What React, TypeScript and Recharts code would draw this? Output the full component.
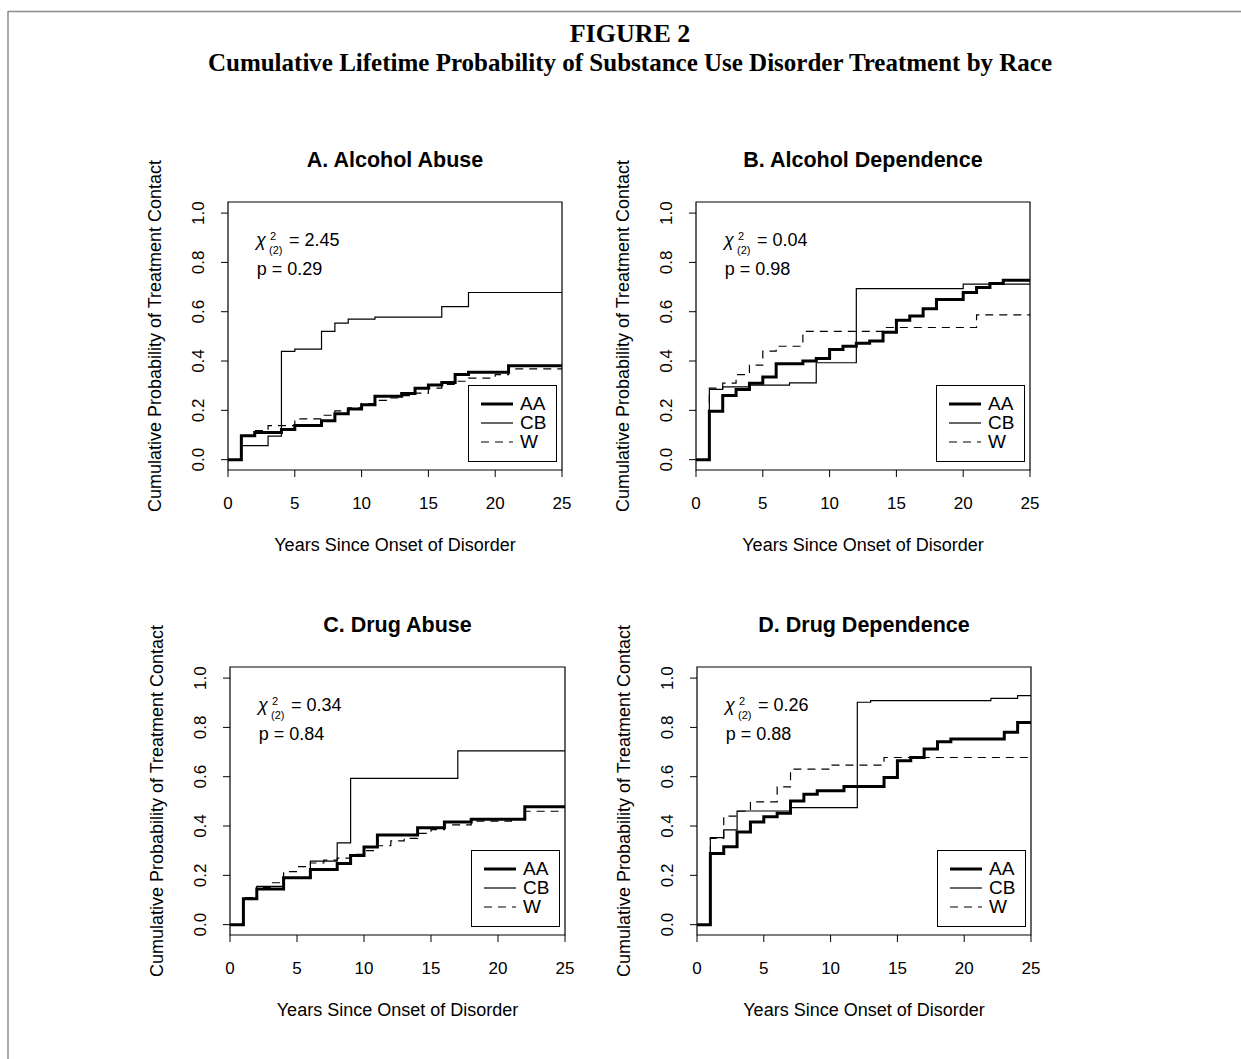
import React from "react";
import { LineChart, Line, XAxis, YAxis, ReferenceArea, Legend } from "recharts";

type Pt = [number, number];

// [years since onset, cumulative probability] — step points

// A. Alcohol Abuse
const alcAbuseAA: Pt[] = [[0, 0], [1, 0.097], [2, 0.11], [4, 0.122], [5, 0.138], [7, 0.158], [8, 0.186], [9, 0.205], [10, 0.223], [11, 0.257], [13, 0.268], [14, 0.29], [15, 0.303], [16, 0.313], [17, 0.345], [18, 0.354], [21, 0.381], [25, 0.381]];
const alcAbuseCB: Pt[] = [[0, 0], [1, 0.057], [3, 0.095], [4, 0.439], [5, 0.448], [7, 0.52], [8, 0.554], [9, 0.57], [11, 0.578], [16, 0.621], [18, 0.678], [25, 0.678]];
const alcAbuseW: Pt[] = [[0, 0], [1, 0.097], [2, 0.118], [3, 0.138], [5, 0.165], [7, 0.18], [8, 0.198], [9, 0.21], [10, 0.227], [11, 0.24], [12, 0.25], [13, 0.26], [14, 0.27], [15, 0.29], [16, 0.305], [17, 0.318], [18, 0.331], [20, 0.345], [21, 0.368], [25, 0.368]];

// B. Alcohol Dependence
const alcDepAA: Pt[] = [[0, 0], [1, 0.196], [2, 0.26], [3, 0.285], [4, 0.31], [5, 0.335], [6, 0.389], [8, 0.4], [9, 0.41], [10, 0.447], [11, 0.46], [12, 0.472], [13, 0.481], [14, 0.517], [15, 0.565], [16, 0.583], [17, 0.612], [18, 0.65], [20, 0.678], [21, 0.698], [22, 0.714], [23, 0.728], [25, 0.728]];
const alcDepCB: Pt[] = [[0, 0], [1, 0.285], [2, 0.295], [4, 0.302], [7, 0.311], [9, 0.393], [12, 0.694], [20, 0.712], [25, 0.712]];
const alcDepW: Pt[] = [[0, 0], [1, 0.29], [2, 0.31], [3, 0.345], [4, 0.383], [5, 0.44], [6, 0.46], [8, 0.52], [14, 0.536], [21, 0.587], [25, 0.587]];

// C. Drug Abuse
const drugAbuseAA: Pt[] = [[0, 0], [1, 0.105], [2, 0.145], [4, 0.19], [6, 0.224], [8, 0.248], [9, 0.28], [10, 0.315], [11, 0.364], [14, 0.393], [16, 0.416], [18, 0.427], [22, 0.478], [25, 0.478]];
const drugAbuseCB: Pt[] = [[0, 0], [1, 0.105], [2, 0.155], [4, 0.19], [6, 0.258], [8, 0.332], [9, 0.593], [17, 0.705], [25, 0.705]];
const drugAbuseW: Pt[] = [[0, 0], [1, 0.11], [2, 0.15], [3, 0.17], [4, 0.215], [5, 0.235], [6, 0.25], [7, 0.262], [8, 0.27], [9, 0.285], [10, 0.3], [11, 0.32], [12, 0.34], [13, 0.35], [14, 0.37], [15, 0.385], [16, 0.405], [18, 0.42], [21, 0.43], [22, 0.46], [25, 0.46]];

// D. Drug Dependence
const drugDepAA: Pt[] = [[0, 0], [1, 0.289], [2, 0.316], [3, 0.376], [4, 0.416], [5, 0.438], [6, 0.452], [7, 0.502], [8, 0.529], [9, 0.543], [11, 0.56], [14, 0.597], [15, 0.665], [16, 0.678], [17, 0.712], [18, 0.742], [19, 0.753], [23, 0.78], [24, 0.82], [25, 0.82]];
const drugDepCB: Pt[] = [[0, 0], [1, 0.353], [2, 0.384], [3, 0.461], [7, 0.475], [12, 0.902], [13, 0.909], [22, 0.918], [24, 0.929], [25, 0.929]];
const drugDepW: Pt[] = [[0, 0], [1, 0.35], [2, 0.44], [3, 0.46], [4, 0.498], [6, 0.559], [7, 0.631], [10, 0.647], [14, 0.678], [25, 0.678]];

const xTicks = [0, 5, 10, 15, 20, 25];
const yTicks = [0, 0.2, 0.4, 0.6, 0.8, 1.0];
const Y_MIN = -0.042;
const Y_MAX = 1.045;

const SANS = '"Liberation Sans", Arial, sans-serif';
const SERIF = '"Liberation Serif", "Times New Roman", serif';

const panels = [
  { title: "A. Alcohol Abuse", chi: "2.45", p: "0.29", aa: alcAbuseAA, cb: alcAbuseCB, w: alcAbuseW, left: 228, top: 202, width: 334, height: 268 },
  { title: "B. Alcohol Dependence", chi: "0.04", p: "0.98", aa: alcDepAA, cb: alcDepCB, w: alcDepW, left: 696, top: 202, width: 334, height: 268 },
  { title: "C. Drug Abuse", chi: "0.34", p: "0.84", aa: drugAbuseAA, cb: drugAbuseCB, w: drugAbuseW, left: 230, top: 667, width: 335, height: 268 },
  { title: "D. Drug Dependence", chi: "0.26", p: "0.88", aa: drugDepAA, cb: drugDepCB, w: drugDepW, left: 697, top: 667, width: 334, height: 268 },
];

const toRows = (pts: Pt[]) => pts.map(([t, p]) => ({ t, p }));

const YTick = (props: any) => {
  const { x, y, payload } = props;
  const bx = x - 13;
  return (
    <text x={bx} y={y} transform={`rotate(-90 ${bx} ${y})`} textAnchor="middle" fontSize={17} fill="#000" fontFamily={SANS}>
      {Number(payload.value).toFixed(1)}
    </text>
  );
};

const LegendBox = (props: any) => {
  const items = props.payload || [];
  return (
    <div style={{ width: 89, height: 77, border: "1.2px solid #000", boxSizing: "border-box", background: "#fff", position: "relative", fontFamily: SANS }}>
      {items.map((it: any, i: number) => (
        <div key={it.value} style={{ position: "absolute", left: 12, top: 8 + i * 19, height: 20, display: "flex", alignItems: "center" }}>
          <svg width={32} height={6}>
            <line x1={0} x2={32} y1={3} y2={3} stroke="#000" strokeWidth={it.payload?.strokeWidth ?? 1.2} strokeDasharray={it.payload?.strokeDasharray} />
          </svg>
          <span style={{ marginLeft: 7, fontSize: 19, lineHeight: "20px", color: "#000" }}>{it.value}</span>
        </div>
      ))}
    </div>
  );
};

const YW = 60;
const MT = 4;
const MR = 18;
const XH = 45;

function Panel({ cfg }: { cfg: (typeof panels)[number] }) {
  const { left, top, width, height } = cfg;
  return (
    <div style={{ position: "absolute", left: left - YW, top: top - MT }}>
      <LineChart width={YW + width + MR} height={MT + height + XH} margin={{ top: MT, right: MR, bottom: 0, left: 0 }} style={{ fontFamily: SANS }}>
        <XAxis type="number" dataKey="t" domain={[0, 25]} ticks={xTicks} interval={0} allowDataOverflow
          tickSize={7} tickMargin={20} axisLine={false} height={XH}
          tick={{ fontSize: 17, fill: "#000", fontFamily: SANS }} tickLine={{ stroke: "#000" }} />
        <YAxis type="number" dataKey="p" domain={[Y_MIN, Y_MAX]} ticks={yTicks} interval={0} allowDataOverflow
          tickSize={7} tickMargin={4} axisLine={false} width={YW}
          tick={<YTick />} tickLine={{ stroke: "#000" }} />
        <ReferenceArea x1={0} x2={25} y1={Y_MIN} y2={Y_MAX} fill="none" stroke="#000" strokeWidth={1.2} fillOpacity={0} ifOverflow="visible" />
        <Line data={toRows(cfg.aa)} dataKey="p" name="AA" type="stepAfter" stroke="#000" strokeWidth={3} dot={false} isAnimationActive={false} />
        <Line data={toRows(cfg.cb)} dataKey="p" name="CB" type="stepAfter" stroke="#000" strokeWidth={1.2} dot={false} isAnimationActive={false} />
        <Line data={toRows(cfg.w)} dataKey="p" name="W" type="stepAfter" stroke="#000" strokeWidth={1.2} strokeDasharray="8 6" dot={false} isAnimationActive={false} />
        <Legend verticalAlign="middle" align="center" content={<LegendBox />}
          wrapperStyle={{ left: YW + width - 5 - 89, top: MT + height - 8 - 77, width: 89, height: 77 }} />
      </LineChart>
    </div>
  );
}

export default function App() {
  return (
    <div style={{ position: "absolute", left: 0, top: 0, width: 1241, height: 1059, background: "#fff" }}>
      <svg width={1241} height={1059} style={{ position: "absolute", left: 0, top: 0 }}>
        <line x1={8} x2={1241} y1={11.5} y2={11.5} stroke="#8c8c8c" strokeWidth={1.5} />
        <line x1={8} x2={8} y1={11} y2={1059} stroke="#8c8c8c" strokeWidth={1.5} />
        <text x={630} y={42} textAnchor="middle" fontFamily={SERIF} fontWeight="bold" fontSize={26}>FIGURE 2</text>
        <text x={630} y={71} textAnchor="middle" fontFamily={SERIF} fontWeight="bold" fontSize={25}>
          Cumulative Lifetime Probability of Substance Use Disorder Treatment by Race
        </text>
        {panels.map((c) => {
          const cx = c.left + c.width / 2;
          const cy = c.top + c.height / 2;
          const yl = c.left - 67.5;
          return (
            <g key={c.title} fontFamily={SANS} fill="#000">
              <text x={cx} y={c.top - 35.5} textAnchor="middle" fontWeight="bold" fontSize={21.5}>{c.title}</text>
              <text x={cx} y={c.top + c.height + 81} textAnchor="middle" fontSize={18}>Years Since Onset of Disorder</text>
              <text x={yl} y={cy} transform={`rotate(-90 ${yl} ${cy})`} textAnchor="middle" fontSize={18}>
                Cumulative Probability of Treatment Contact
              </text>
              <text x={c.left + 28} y={c.top + 43.7} fontSize={18} fontStyle="italic">χ</text>
              <text x={c.left + 42} y={c.top + 37.5} fontSize={11}>2</text>
              <text x={c.left + 41} y={c.top + 52} fontSize={11}>(2)</text>
              <text x={c.left + 61} y={c.top + 43.7} fontSize={18}>{"= " + c.chi}</text>
              <text x={c.left + 28.7} y={c.top + 73} fontSize={18}>{"p = " + c.p}</text>
            </g>
          );
        })}
      </svg>
      {panels.map((c) => (
        <Panel key={c.title} cfg={c} />
      ))}
    </div>
  );
}
